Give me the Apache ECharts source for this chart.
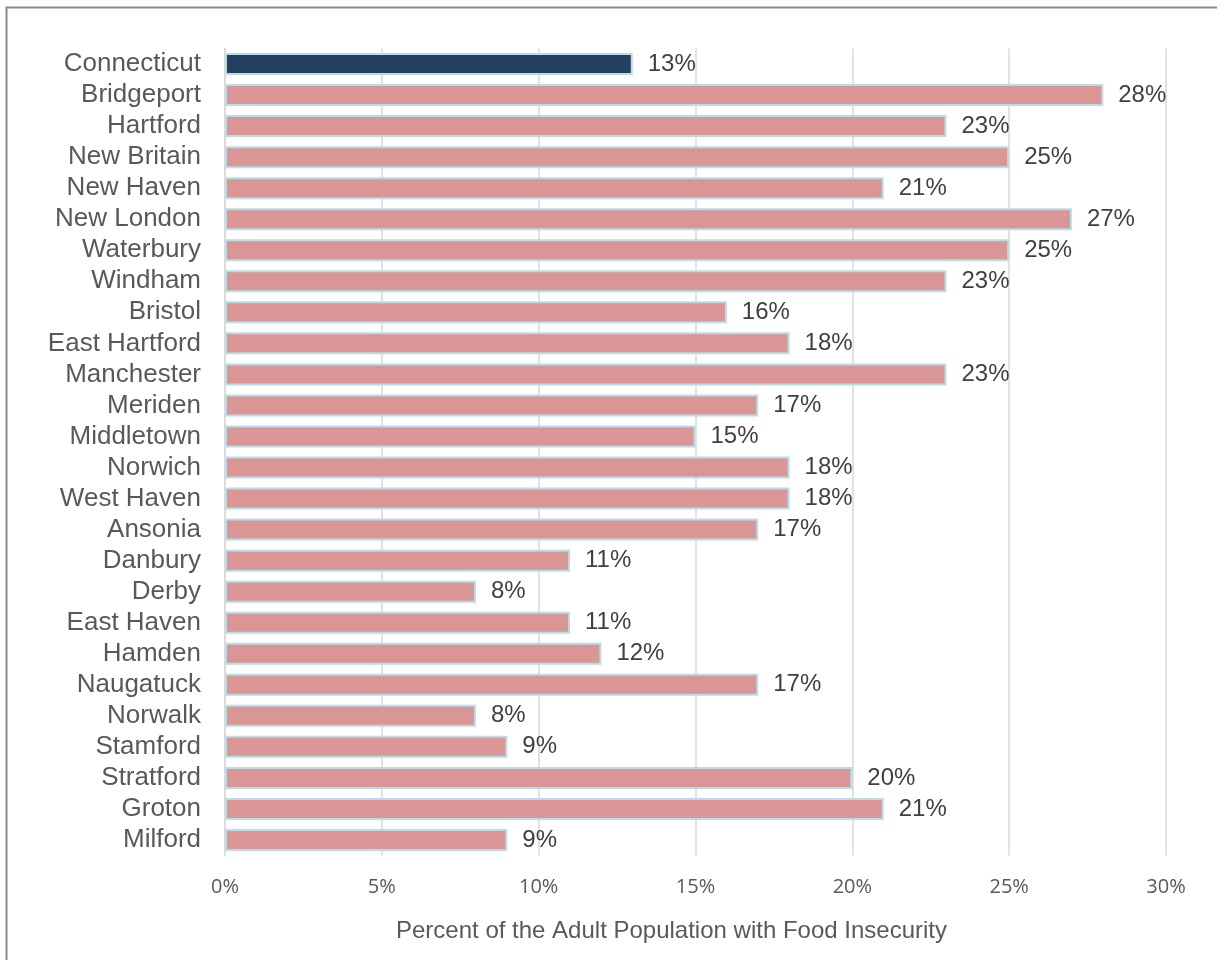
<!DOCTYPE html>
<html>
<head>
<meta charset="utf-8">
<script src="https://cdn.jsdelivr.net/npm/echarts@6/dist/echarts.min.js"></script>
<style>
  html, body { margin: 0; padding: 0; background: #fff; }
  #chart { width: 1217px; height: 960px; }
</style>
</head>
<body>
<div id="chart"></div>
<script>
// Places, top to bottom
const places = [
  'Connecticut', 'Bridgeport', 'Hartford', 'New Britain', 'New Haven', 'New London',
  'Waterbury', 'Windham', 'Bristol', 'East Hartford', 'Manchester', 'Meriden',
  'Middletown', 'Norwich', 'West Haven', 'Ansonia', 'Danbury', 'Derby',
  'East Haven', 'Hamden', 'Naugatuck', 'Norwalk', 'Stamford', 'Stratford',
  'Groton', 'Milford'
];
// Percent of adults with food insecurity
const foodInsecurity = [
  13, 28, 23, 25, 21, 27,
  25, 23, 16, 18, 23, 17,
  15, 18, 18, 17, 11, 8,
  11, 12, 17, 8, 9, 20,
  21, 9
];
const statewide = 'Connecticut';
const axisTitle = 'Percent of the Adult Population with Food Insecurity';

const chart = echarts.init(document.getElementById('chart'), null, { renderer: 'canvas' });

const barData = places.map((p, i) => ({
  value: foodInsecurity[i],
  itemStyle: { color: p === statewide ? '#243f60' : '#d99694' }
}));

chart.setOption({
  animation: false,
  backgroundColor: '#ffffff',
  graphic: [{
    type: 'rect',
    shape: { x: 6.5, y: 7.5, width: 1230, height: 970 },
    style: { fill: 'none', stroke: '#8a8a8a', lineWidth: 2 },
    silent: true
  }],
  grid: { left: 225, right: 51, top: 48.5, bottom: 104.5 },
  xAxis: {
    type: 'value',
    min: 0, max: 30, interval: 5,
    name: axisTitle,
    nameLocation: 'middle',
    nameGap: 64,
    nameTextStyle: {
      fontFamily: 'Liberation Sans', fontSize: 24, color: '#595959',
      padding: [0, 48, 0, 0]
    },
    axisLine: { show: false },
    axisTick: { show: false },
    axisLabel: {
      formatter: v => v + '%',
      fontFamily: 'Open Sans', fontSize: 20, color: '#595959', margin: 22
    },
    splitLine: { show: true, lineStyle: { color: '#d9d9d9', width: 1.5 } }
  },
  yAxis: {
    type: 'category',
    data: places,
    inverse: true,
    axisLine: { show: true, lineStyle: { color: '#d9d9d9', width: 1.5 } },
    axisTick: { show: false },
    axisLabel: {
      interval: 0,
      fontFamily: 'Liberation Sans', fontSize: 26, color: '#595959', margin: 24
    }
  },
  series: [{
    type: 'bar',
    data: barData,
    barWidth: 22,
    itemStyle: { borderColor: '#b7dde8', borderWidth: 2 },
    label: {
      show: true,
      position: 'right',
      distance: 15,
      formatter: p => p.value + '%',
      fontFamily: 'Liberation Sans', fontSize: 24, color: '#404040'
    }
  }]
});
</script>
</body>
</html>
